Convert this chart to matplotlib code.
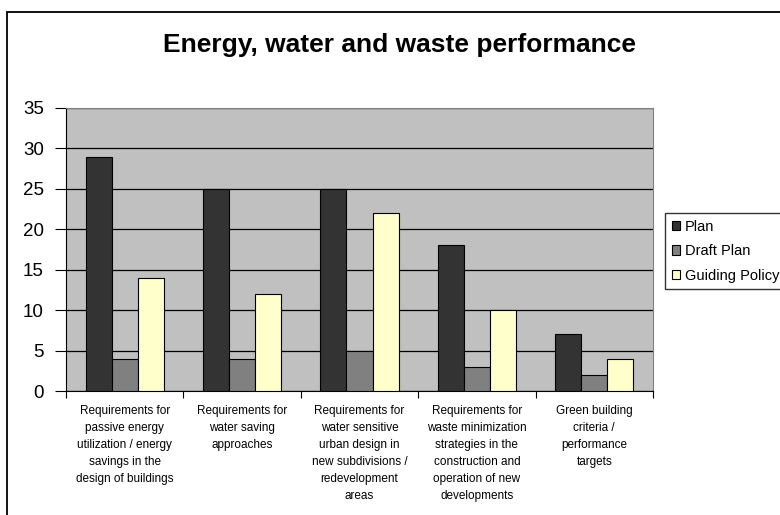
import numpy as np
import matplotlib
matplotlib.use("Agg")
import matplotlib.pyplot as plt
from matplotlib.patches import Rectangle

plt.rcParams['font.family'] = ['Liberation Sans', 'DejaVu Sans']

categories = [
    "Requirements for\npassive energy\nutilization / energy\nsavings in the\ndesign of buildings",
    "Requirements for\nwater saving\napproaches",
    "Requirements for\nwater sensitive\nurban design in\nnew subdivisions /\nredevelopment\nareas",
    "Requirements for\nwaste minimization\nstrategies in the\nconstruction and\noperation of new\ndevelopments",
    "Green building\ncriteria /\nperformance\ntargets",
]
plan = [29, 25, 25, 18, 7]
draft_plan = [4, 4, 5, 3, 2]
guiding_policy = [14, 12, 22, 10, 4]

series = ["Plan", "Draft Plan", "Guiding Policy"]
colors = ["#333333", "#808080", "#FFFFCC"]

fig = plt.figure(figsize=(7.8, 5.15), dpi=100)
ax = fig.add_axes([66 / 780, 1 - 391 / 515, (653 - 66) / 780, (391 - 108) / 515])
ax.set_facecolor("#C0C0C0")

# outer chart border (runs off the right and bottom edges)
fig.patches.append(Rectangle((7 / 780, -0.1), 1.2, 1 - 12 / 515 + 0.1,
                             transform=fig.transFigure, fill=False,
                             edgecolor="black", linewidth=1.3))

x = np.arange(len(categories))
w = 1 / 4.5
for i, (vals, name, c) in enumerate(zip([plan, draft_plan, guiding_policy], series, colors)):
    ax.bar(x + (i - 1) * w, vals, w, color=c, edgecolor="black", linewidth=0.8,
           label=name, zorder=3)

ax.set_xlim(-0.5, 4.5)
ax.set_ylim(0, 35)
ax.set_yticks(range(0, 36, 5))
ax.tick_params(axis="y", labelsize=13.5, length=8, width=0.8, direction="out", pad=8)
ax.yaxis.grid(True, color="black", linewidth=0.9, zorder=1)
ax.set_axisbelow(True)

ax.set_xticks(x)
ax.set_xticklabels(categories, fontsize=8.5, linespacing=1.55, va="top")
ax.tick_params(axis="x", length=0, pad=10)
ax.set_xticks(np.arange(-0.5, 5, 1), minor=True)
ax.tick_params(axis="x", which="minor", length=5, width=0.8, direction="out")

for s in ["top", "right"]:
    ax.spines[s].set_color("#808080")
for s in ["left", "bottom"]:
    ax.spines[s].set_color("black")

fig.text(400 / 780, 1 - 45 / 515, "Energy, water and waste performance",
         ha="center", va="center", fontsize=19, fontweight="bold")

fig.legend(loc="upper left", bbox_to_anchor=(665 / 780, 1 - 213 / 515),
           fontsize=10.5, frameon=True, fancybox=False, edgecolor="black",
           handlelength=0.6, handleheight=0.6, handletextpad=0.3,
           labelspacing=0.72, borderpad=0.45, borderaxespad=0)

fig.savefig("out.png", dpi=100)
